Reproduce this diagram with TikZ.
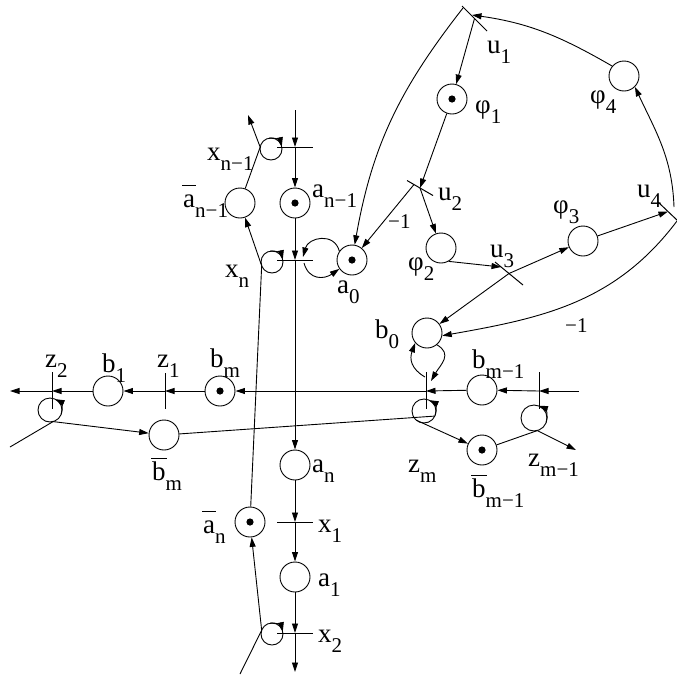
\documentclass[tikz,border=0pt]{standalone}
\usepackage{fontspec}
\setmainfont{Liberation Serif}
\usetikzlibrary{arrows.meta,calc}
\newcommand\mainsz{\fontsize{27}{29}\selectfont}
\newcommand\subsz{\fontsize{21}{23}\selectfont}
\newcommand\lb[2]{{\mainsz #1\raisebox{-10pt}{\subsz #2}}}
\newcommand\ovl[1]{\setbox0\hbox{#1}\rlap{\hspace{-1pt}\raisebox{21pt}{\rule{\dimexpr\wd0+2pt\relax}{1.2pt}}}\box0}
\tikzset{
  place/.style={circle, draw, line width=0.9pt, minimum size=30pt, inner sep=0pt},
  marked/.style={place, path picture={\fill (path picture bounding box.center) circle (3.6pt);}},
  ln/.style={line width=0.9pt},
  arr/.style={line width=0.9pt, -{Triangle[length=9.5pt,width=6pt]}},
  bar/.style={line width=1pt},
  lab/.style={anchor=base west, inner sep=0pt},
  num/.style={anchor=base west, inner sep=0pt, font=\fontsize{21}{23}\selectfont}
}
\begin{document}
\begin{tikzpicture}[x=1pt,y=1pt]
\useasboundingbox (0,0) rectangle (677,-675);
% places
\node[marked] (an1) at (295,-203) {};
\node[place]  (abn1) at (240,-203) {};
\node[marked] (a0) at (352,-260) {};
\node[place]  (an) at (295,-465) {};
\node[marked] (abn) at (250,-522) {};
\node[place]  (a1) at (295,-577) {};
\node[marked] (phi1) at (452,-99) {};
\node[place]  (phi2) at (441,-248) {};
\node[place]  (phi3) at (583,-241) {};
\node[place]  (phi4) at (624,-76) {};
\node[place]  (b0) at (427,-333) {};
\node[place]  (bm1) at (482,-390) {};
\node[marked] (bbm1) at (482,-450) {};
\node[marked] (bm) at (220,-391) {};
\node[place]  (b1) at (108,-391) {};
\node[place]  (bbm) at (164,-435) {};
% transitions
\coordinate (xn1) at (295,-147);
\coordinate (xn) at (295,-260);
\coordinate (x1) at (295,-522);
\coordinate (x2) at (295,-633);
\coordinate (z2) at (52,-391);
\coordinate (z1) at (165,-391);
\coordinate (zm) at (426,-391);
\coordinate (zm1) at (539,-391);
\coordinate (u1) at (474.5,-18.5);
\coordinate (u2) at (420,-188);
\coordinate (u3) at (509,-273.5);
\coordinate (u4) at (668,-211.5);
% bars
\draw[bar] (xn1) ++(-18,0) -- ++(36,0);
\draw[bar] (xn) ++(-18,0) -- ++(36,0);
\draw[bar] (x1) ++(-18,0) -- ++(36,0);
\draw[bar] (x2) ++(-18,0) -- ++(36,0);
\draw[bar] (z2) ++(0,19) -- ++(0,-37);
\draw[bar] (z1) ++(0,18) -- ++(0,-36);
\draw[bar] (zm) ++(0,19) -- ++(0,-37);
\draw[bar] (zm1) ++(0,19) -- ++(0,-37);
\draw[bar] (u1) ++(-12.5,12.5) -- ++(25,-25);
\draw[bar] (u2) ++(-13,7.5) -- ++(26,-15);
\draw[bar] (u3) ++(-14,11.5) -- ++(28,-23);
\draw[bar] (u4) ++(-10,9.5) -- ++(20,-19);
% free ends
\coordinate (top) at (295,-110);
\coordinate (bot) at (295,-672);
\coordinate (rstart) at (579,-391);
\coordinate (lend) at (10,-391);
% main column
\draw[arr] (top) -- (xn1);
\draw[arr] (xn1) -- (an1);
\draw[arr] (an1) -- (xn);
\draw[arr] (xn) -- (an);
\draw[arr] (an) -- (x1);
\draw[arr] (x1) -- (a1);
\draw[arr] (a1) -- (x2);
\draw[arr] (x2) -- (bot);
% row
\draw[arr] (rstart) -- (zm1);
\draw[arr] (zm1) -- (bm1);
\draw[arr] (bm1) -- (zm);
\draw[arr] (zm) -- (bm);
\draw[arr] (bm) -- (z1);
\draw[arr] (z1) -- (b1);
\draw[arr] (b1) -- (z2);
\draw[arr] (z2) -- (lend);
% loop x_{n-1}
\coordinate (L1c) at (271,-149);
\coordinate (c1) at ($(L1c)+(170:11)$);
\draw[ln] (L1c) circle (11);
\draw[arr] (L1c) ++(100:11) arc[start angle=100, end angle=12, radius=11];
\coordinate (xn1out) at (248,-115);
\draw[ln] (abn1) -- (c1);
\draw[arr] (c1) -- (xn1out);
% loop x_n
\coordinate (L2c) at (272,-262);
\coordinate (c2) at ($(L2c)+(200:11)$);
\draw[ln] (L2c) circle (11);
\draw[arr] (L2c) ++(100:11) arc[start angle=100, end angle=12, radius=11];
\draw[ln] (abn) -- (c2);
\draw[arr] (c2) -- (abn1);
% loop x_2
\coordinate (L3c) at (272,-634);
\coordinate (c3) at ($(L3c)+(160:11)$);
\coordinate (bl) at (240,-674);
\draw[ln] (L3c) circle (11);
\draw[arr] (L3c) ++(100:11) arc[start angle=100, end angle=12, radius=11];
\draw[ln] (bl) -- (c3);
\draw[arr] (c3) -- (abn);
% loop z_2
\coordinate (L4c) at (50,-410);
\coordinate (c4) at ($(L4c)+(-75:12)$);
\coordinate (llb) at (10,-447);
\draw[ln] (L4c) circle (12);
\draw[arr] (L4c) ++(-20:12) arc[start angle=-20, end angle=65, radius=12];
\draw[ln] (llb) -- (c4);
\draw[arr] (c4) -- (bbm);
% loop z_m
\coordinate (L5c) at (424,-411);
\coordinate (c5in) at ($(L5c)+(-25:12)$);
\coordinate (c5out) at ($(L5c)+(-130:12)$);
\draw[ln] (L5c) circle (12);
\draw[arr] (L5c) ++(-20:12) arc[start angle=-20, end angle=65, radius=12];
\draw[ln] (bbm) -- (c5in);
\draw[arr] (c5out) -- (bbm1);
% loop z_{m-1}
\coordinate (L6c) at (534,-418);
\coordinate (c6) at ($(L6c)+(-75:13)$);
\coordinate (zm1out) at (576,-450);
\draw[ln] (L6c) circle (13);
\draw[arr] (L6c) ++(-20:13) arc[start angle=-20, end angle=70, radius=13];
\draw[ln] (bbm1) -- (c6);
\draw[arr] (c6) -- (zm1out);
% a_0 self loop
\coordinate (xnr1) at (303,-257);
\coordinate (xnr2) at (304,-263);
\draw[arr] (a0.145) to[out=105, in=75, looseness=1.4] (xnr1);
\draw[arr] (xnr2) to[out=-75, in=-145, looseness=1.3] (a0.215);
% b_0 self loop
\coordinate (zmt1) at (431,-381);
\coordinate (zmt2) at (425,-377);
\draw[arr] (b0.-50) to[out=-30, in=60, looseness=1.3] (zmt1);
\draw[arr] (zmt2) to[out=150, in=-110, looseness=1.2] (b0.-140);
% phi net
\coordinate (u1s) at (463,-8);
\coordinate (u1t) at (472,-15);
\coordinate (u2l) at (414,-184.5);
\coordinate (u3a) at (501,-267);
\coordinate (u4t) at (674,-207);
\coordinate (u4b) at (677,-221);
\draw[arr] (u1) -- (phi1);
\draw[arr] (phi1) -- (u2);
\draw[arr] (u2) -- (phi2);
\draw[arr] (u2l) -- (a0);
\draw[arr] (phi2.-60) -- (u3a);
\draw[arr] (u3) -- (phi3);
\draw[arr] (u3) -- (b0);
\draw[arr] (phi3) -- (u4);
\draw[arr] (u4t) to[out=92, in=-65] (phi4.-45);
\draw[arr] (phi4.140) to[out=150, in=-8] (u1t);
\draw[arr] (u1s) to[out=232, in=80] (a0.80);
\draw[arr] (u4b) to[out=233, in=10] (b0.-10);
% labels
\node[lab] (lu1) at (487,-53) {\lb{u}{1}};
\node[lab] (lphi1) at (475,-113) {\lb{φ}{1}};
\node[lab] (lu2) at (438,-200) {\lb{u}{2}};
\node[lab] (lphi2) at (408,-270) {\lb{φ}{2}};
\node[lab] (lu3) at (490,-257) {\lb{u}{3}};
\node[lab] (lphi3) at (553,-213) {\lb{φ}{3}};
\node[lab] (lu4) at (637,-197) {\lb{u}{4}};
\node[lab] (lphi4) at (590,-103) {\lb{φ}{4}};
\node[num] (m1a) at (388,-228) {−1};
\node[num] (m1b) at (565,-332) {−1};
\node[lab] (lb0) at (375,-338) {\lb{b}{0}};
\node[lab] (la0) at (337,-293) {\lb{a}{0}};
\node[lab] (lbm1) at (472,-368) {\lb{b}{m−1}};
\node[lab] (lzm) at (408,-472) {\lb{z}{m}};
\node[lab] (lzm1) at (528,-466) {\lb{z}{m−1}};
\node[lab] (lbbm1) at (472,-497) {\lb{\ovl{b}}{m−1}};
\node[lab] (lbbm) at (152,-480) {\lb{\ovl{b}}{m}};
\node[lab] (lbm) at (210,-367) {\lb{b}{m}};
\node[lab] (lz1) at (157,-367) {\lb{z}{1}};
\node[lab] (lb1) at (102,-372) {\lb{b}{1}};
\node[lab] (lz2) at (45,-367) {\lb{z}{2}};
\node[lab] (lxn1) at (207,-160) {\lb{x}{n−1}};
\node[lab] (labn1) at (183,-207) {\lb{\ovl{a}}{n−1}};
\node[lab] (lan1) at (312,-197) {\lb{a}{n−1}};
\node[lab] (lxn) at (225,-277) {\lb{x}{n}};
\node[lab] (lan) at (312,-472) {\lb{a}{n}};
\node[lab] (labn) at (203,-533) {\lb{\ovl{a}}{n}};
\node[lab] (lx1) at (318,-532) {\lb{x}{1}};
\node[lab] (la1) at (318,-586) {\lb{a}{1}};
\node[lab] (lx2) at (318,-642) {\lb{x}{2}};
\end{tikzpicture}
\end{document}
